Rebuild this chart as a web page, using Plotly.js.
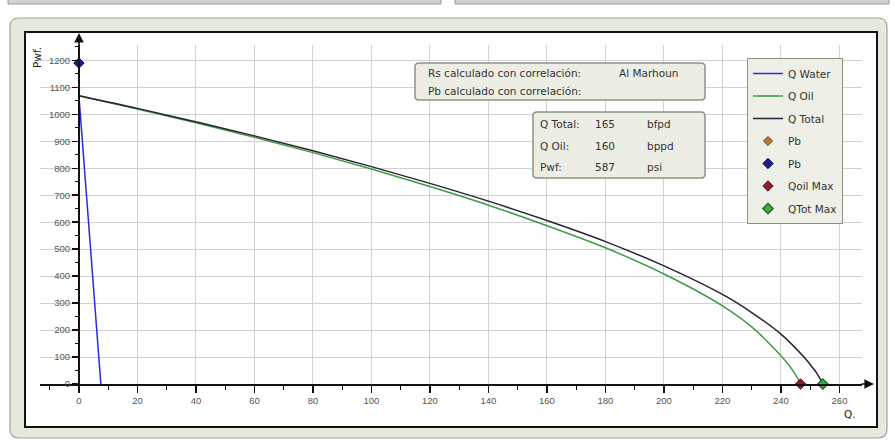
<!DOCTYPE html>
<html><head><meta charset="utf-8">
<script src="https://cdn.plot.ly/plotly-3.0.1.min.js"></script>
<style>html,body{margin:0;padding:0;background:#fff}#c{width:895px;height:440px}</style>
</head><body><div id="c"></div>
<script>
// ---- data ----
const qWater = [0, 7.5];
const pWater = [1069, 0];
const qOil = [0, 20, 40, 60, 80, 100, 120, 140, 160, 180, 200, 220, 230, 238, 243, 245, 246.7];
const pOil = [1069, 1020, 969, 915, 858, 797, 732, 663, 587, 505, 408, 290, 212, 128, 66, 34, 0];
const qTotal = [0, 20, 40, 60, 80, 100, 120, 140, 160, 180, 200, 220, 230, 240, 248, 250.5, 252.5, 254.3];
const pTotal = [1069, 1022, 972, 920, 865, 806, 744, 678, 606, 528, 438, 332, 265, 185, 98, 65, 36, 0];
const pbBrownQ = [0];
const pbBrownP = [1190];
const pbBlueQ = [0];
const pbBlueP = [1190];
const qOilMaxQ = [246.7];
const qOilMaxP = [0];
const qTotMaxQ = [254.3];
const qTotMaxP = [0];
const infoRow1 = ["Rs calculado con correlación:", "Al Marhoun"];
const infoRow2 = ["Pb calculado con correlación:"];
const resLabels = ["Q Total:", "Q Oil:", "Pwf:"];
const resValues = ["165", "160", "587"];
const resUnits = ["bfpd", "bppd", "psi"];

// ---- geometry helpers (plot area in pixels) ----
const L = 40, R = 862, T = 45, B = 384;
const W = 895, H = 440;
const px = x => (x - L) / (R - L);
const py = y => (B - y) / (B - T);
function rrect(x0, y0, x1, y1, r) {
  const X0 = px(x0), X1 = px(x1), Y0 = py(y0), Y1 = py(y1);
  const rx = r / (R - L), ry = r / (B - T);
  return `M${X0 + rx},${Y0} L${X1 - rx},${Y0} Q${X1},${Y0} ${X1},${Y0 - ry} L${X1},${Y1 + ry} Q${X1},${Y1} ${X1 - rx},${Y1} L${X0 + rx},${Y1} Q${X0},${Y1} ${X0},${Y1 + ry} L${X0},${Y0 - ry} Q${X0},${Y0} ${X0 + rx},${Y0} Z`;
}
const FONT = "DejaVu Sans, Verdana, sans-serif";
const TFONT = "Liberation Sans, Arial, sans-serif";

const traces = [
  {x: qWater, y: pWater, name: "Q Water", mode: "lines", line: {color: "#2b2bd8", width: 1.5}, legendgroup: "a"},
  {x: qOil, y: pOil, name: "Q Oil", mode: "lines", line: {color: "#3f9a45", width: 1.5, shape: "spline", smoothing: 1}, legendgroup: "b"},
  {x: qTotal, y: pTotal, name: "Q Total", mode: "lines", line: {color: "#2a2230", width: 1.5, shape: "spline", smoothing: 1}, legendgroup: "c"},
  {x: pbBrownQ, y: pbBrownP, name: "Pb", mode: "markers", cliponaxis: false, marker: {symbol: "diamond", size: 7, color: "#b87a3c", line: {color: "#6b4420", width: 1}}, legendgroup: "d"},
  {x: pbBlueQ, y: pbBlueP, name: "Pb", mode: "markers", cliponaxis: false, marker: {symbol: "diamond", size: 8, color: "#1c1c8a", line: {color: "#0c0c50", width: 1}}, legendgroup: "e"},
  {x: qOilMaxQ, y: qOilMaxP, name: "Qoil Max", mode: "markers", cliponaxis: false, marker: {symbol: "diamond", size: 8, color: "#8e1e2c", line: {color: "#5a0e18", width: 1}}, legendgroup: "f"},
  {x: qTotMaxQ, y: qTotMaxP, name: "QTot Max", mode: "markers", cliponaxis: false, marker: {symbol: "diamond", size: 8, color: "#38b040", line: {color: "#1a5a20", width: 1.2}}, legendgroup: "g"}
];

const shapes = [
  {type: "rect", xref: "paper", yref: "paper", x0: px(8), x1: px(441), y0: py(-2), y1: py(4), fillcolor: "#d2d2d2", line: {color: "#9a9a9a", width: 1}, layer: "below"},
  {type: "rect", xref: "paper", yref: "paper", x0: px(455), x1: px(889), y0: py(-2), y1: py(4), fillcolor: "#d2d2d2", line: {color: "#9a9a9a", width: 1}, layer: "below"},
  {type: "path", xref: "paper", yref: "paper", path: rrect(10, 18, 887, 438, 9), fillcolor: "#e3e9db", line: {color: "#9ea697", width: 1.2}, layer: "below"},
  {type: "rect", xref: "paper", yref: "paper", x0: px(25), x1: px(877), y0: py(32), y1: py(427), fillcolor: "#ffffff", line: {color: "#111111", width: 2}, layer: "below"},
  {type: "path", xref: "paper", yref: "paper", path: rrect(415, 63, 705, 100, 4), fillcolor: "#eceee6", line: {color: "#8a9282", width: 1.5}, layer: "above"},
  {type: "path", xref: "paper", yref: "paper", path: rrect(533, 112, 705, 178, 4), fillcolor: "#eceee6", line: {color: "#8a9282", width: 1.5}, layer: "above"}
];

const annotations = [];
function txt(s, x, y, opt) {
  annotations.push(Object.assign({text: s, xref: "paper", yref: "paper", x: px(x), y: py(y), xanchor: "left", yanchor: "middle", showarrow: false, font: {family: FONT, size: 10.5, color: "#333"}}, opt || {}));
}
txt(infoRow1[0], 426, 73);
txt(infoRow1[1], 617, 73);
txt(infoRow2[0], 426, 91);
const rowsY = [124, 146, 167];
for (let i = 0; i < resLabels.length; i++) {
  txt(resLabels[i], 538, rowsY[i]);
  txt(resValues[i], 593, rowsY[i]);
  txt(resUnits[i], 645, rowsY[i]);
}
txt("Pwf.", 37, 58, {textangle: -90, xanchor: "center", font: {family: FONT, size: 10.5, color: "#222"}});
txt("Q.", 850, 414, {xanchor: "center", font: {family: FONT, size: 10.5, color: "#222"}});
// axis arrows
annotations.push({xref: "paper", yref: "paper", x: px(79), y: py(33), ax: 0, ay: 14, showarrow: true, arrowhead: 2, arrowsize: 1.2, arrowwidth: 1.6, arrowcolor: "#111", text: ""});
annotations.push({xref: "paper", yref: "paper", x: px(874), y: py(B), ax: -14, ay: 0, showarrow: true, arrowhead: 2, arrowsize: 1.2, arrowwidth: 1.6, arrowcolor: "#111", text: ""});

const layout = {
  width: W, height: H,
  margin: {l: L, r: W - R, t: T, b: H - B},
  paper_bgcolor: "#ffffff",
  plot_bgcolor: "rgba(0,0,0,0)",
  font: {family: TFONT, size: 9, color: "#444"},
  showlegend: true,
  legend: {x: px(747), y: py(58), xanchor: "left", yanchor: "top", bgcolor: "#eef0e8", bordercolor: "#8a9282", borderwidth: 1, font: {family: FONT, size: 10.5, color: "#333"}, itemwidth: 30, tracegroupgap: 3.5, traceorder: "grouped"},
  xaxis: {range: [-13.3, 267.7], dtick: 20, tick0: 0, showgrid: true, gridcolor: "#d0d0d0", gridwidth: 1, zeroline: false,
          showline: true, linecolor: "#111", linewidth: 2, ticks: "outside", ticklen: 7, tickwidth: 1.5, tickcolor: "#111",
          minor: {dtick: 10, tick0: 0, ticks: "outside", ticklen: 4, tickwidth: 1.2, tickcolor: "#111", showgrid: false},
          tickfont: {family: TFONT, size: 9.5, color: "#555"}, fixedrange: true},
  yaxis: {range: [0, 1257], dtick: 100, tick0: 0, showgrid: true, gridcolor: "#d0d0d0", gridwidth: 1, zeroline: false,
          anchor: "free", position: px(79), showline: true, linecolor: "#111", linewidth: 2,
          ticks: "outside", ticklen: 6, tickwidth: 1.5, tickcolor: "#111",
          minor: {dtick: 50, tick0: 0, ticks: "outside", ticklen: 3, tickwidth: 1.2, tickcolor: "#111", showgrid: false},
          tickfont: {family: TFONT, size: 9.5, color: "#555"}, fixedrange: true},
  shapes: shapes,
  annotations: annotations
};
Plotly.newPlot("c", traces, layout, {displayModeBar: false, staticPlot: true});
</script></body></html>
